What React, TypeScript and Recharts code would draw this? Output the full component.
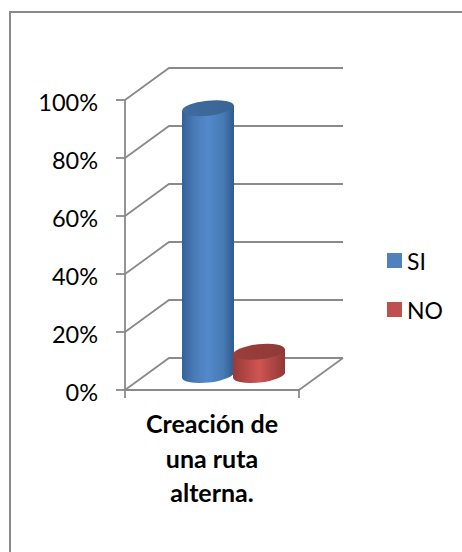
import React from 'react';
import { BarChart, Bar, XAxis, YAxis, CartesianGrid, Legend } from 'recharts';

const categories = ['Creación de una ruta alterna.'];
const labelLines = ['Creación de', 'una ruta', 'alterna.'];
const siValues = [92];
const noValues = [8];
const yTicks = [0, 20, 40, 60, 80, 100];
const seriesOrder = ['SI', 'NO'];
const data = categories.map((name, i) => ({ name, SI: siValues[i], NO: noValues[i] }));

const FONT = 'Lato, sans-serif';
const GREY = '#8a8a8a';
const DX = 44;
const DY = -32;

const gridLine = (p: any) => {
  const { x1, x2, y1 } = p;
  const isFloor = Math.abs(y1 - 390) < 1;
  return (
    <g key={p.key ?? `g-${y1}`} fill="none" stroke={GREY} strokeWidth={1.8}>
      <polyline points={`${x1},${y1} ${x1 + DX},${y1 + DY} ${x2 + DX},${y1 + DY}`} />
      {isFloor ? (
        <>
          <line x1={x2} y1={y1} x2={x2 + DX} y2={y1 + DY} />
          <line x1={x1} y1={y1} x2={x1} y2={y1 + 8} />
          <line x1={x2} y1={y1} x2={x2} y2={y1 + 8} />
        </>
      ) : null}
    </g>
  );
};

const cylinder = (id: string) => (p: any) => {
  const { x, y, width, height } = p;
  const ox = 21;
  const oy = -15;
  const l = x + ox;
  const r = l + width;
  const top = y + oy;
  const bottom = y + height + oy;
  const cx = l + width / 2;
  const rx = width / 2;
  const ry = 7.5;
  const tilt = -6;
  const s = rx * Math.tan((tilt * Math.PI) / 180);
  const body = `M${l},${top - s} L${l},${bottom - s} A${rx},${ry} ${tilt} 0 0 ${r},${bottom + s} L${r},${top + s} Z`;
  return (
    <g>
      <path d={body} fill={`url(#${id}Body)`} />
      <ellipse cx={cx} cy={top} rx={rx} ry={ry} transform={`rotate(${tilt} ${cx} ${top})`} fill={`url(#${id}Top)`} />
    </g>
  );
};

const XTick = (p: any) => (
  <text x={p.x} y={p.y + 35} textAnchor="middle" fontFamily={FONT} fontSize={25} fontWeight={700} fill="#000">
    {labelLines.map((t, i) => (
      <tspan key={t} x={p.x} dy={i === 0 ? 0 : 34.5}>{t}</tspan>
    ))}
  </text>
);

const YTick = (p: any) => (
  <text x={p.x - 10} y={p.y + 11} textAnchor="end" fontFamily={FONT} fontSize={23.5} fill="#000">
    {`${p.payload.value}%`}
  </text>
);

const legendColors: Record<string, string> = { SI: '#4f81bd', NO: '#c0504d' };
const LegendBox = () => (
  <div>
    {seriesOrder.map((name) => (
      <div key={name} style={{ height: 49, display: 'flex', alignItems: 'center', fontFamily: FONT, fontSize: 23, color: '#000' }}>
        <span style={{ width: 15, height: 15, background: legendColors[name], marginRight: 5, display: 'inline-block' }} />
        {name}
      </div>
    ))}
  </div>
);

export default function App() {
  return (
    <div style={{ position: 'absolute', left: 0, top: 0, width: 462, height: 552, background: '#fff', overflow: 'hidden' }}>
      <div style={{ position: 'absolute', left: 9, top: 11, width: 453, height: 541, borderLeft: '2px solid #8a8a8a', borderTop: '2px solid #8a8a8a', boxSizing: 'border-box' }} />
      <BarChart
        width={462}
        height={552}
        data={data}
        barSize={52}
        barGap={-1}
        margin={{ top: 100, right: 93, bottom: 132, left: 61 }}
        style={{ position: 'absolute', left: 0, top: 0 }}
      >
        <defs>
          <linearGradient id="siBody" x1="0" x2="1" y1="0" y2="0">
            <stop offset="0" stopColor="#33629a" />
            <stop offset="0.25" stopColor="#4a7cb8" />
            <stop offset="0.5" stopColor="#5389cc" />
            <stop offset="0.8" stopColor="#467ab4" />
            <stop offset="1" stopColor="#2f5b8f" />
          </linearGradient>
          <linearGradient id="siTop" x1="0" x2="1" y1="0" y2="0">
            <stop offset="0" stopColor="#3f6b9f" />
            <stop offset="1" stopColor="#3a6492" />
          </linearGradient>
          <linearGradient id="noBody" x1="0" x2="1" y1="0" y2="0">
            <stop offset="0" stopColor="#963b38" />
            <stop offset="0.5" stopColor="#cf5552" />
            <stop offset="1" stopColor="#8f3936" />
          </linearGradient>
          <linearGradient id="noTop" x1="0" x2="1" y1="0" y2="0">
            <stop offset="0" stopColor="#9a3e3b" />
            <stop offset="1" stopColor="#8f3a38" />
          </linearGradient>
        </defs>
        <CartesianGrid vertical={false} horizontal={gridLine} />
        <XAxis
          dataKey="name"
          tick={<XTick />}
          interval={0}
          axisLine={{ stroke: GREY, strokeWidth: 1.8 }}
          tickLine={false}
        />
        <YAxis
          type="number"
          domain={[0, 100]}
          ticks={yTicks}
          interval={0}
          width={64}
          tick={<YTick />}
          tickMargin={8}
          axisLine={{ stroke: GREY, strokeWidth: 1.8 }}
          tickLine={{ stroke: GREY, strokeWidth: 1.8 }}
          tickSize={9}
        />
        <Legend
          layout="vertical"
          align="right"
          verticalAlign="top"
          content={<LegendBox />}
          wrapperStyle={{ position: 'absolute', left: 387, top: 236, width: 70 }}
        />
        <Bar dataKey="SI" fill="#4f81bd" isAnimationActive={false} shape={cylinder('si')} />
        <Bar dataKey="NO" fill="#c0504d" isAnimationActive={false} shape={cylinder('no')} />
      </BarChart>
    </div>
  );
}
